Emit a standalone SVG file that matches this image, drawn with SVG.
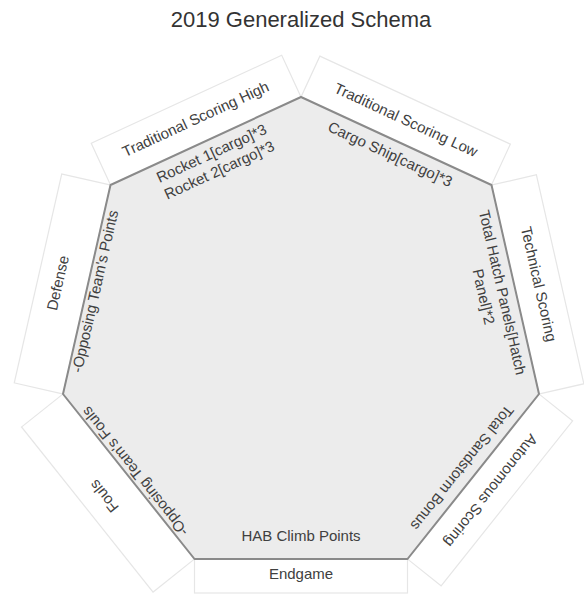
<svg xmlns="http://www.w3.org/2000/svg" width="584" height="596" viewBox="0 0 584 596">
<style>
.box{fill:#ffffff;stroke:#e6e6e6;stroke-width:1.2}
.hept{fill:#ececec;stroke:#8a8a8a;stroke-width:2;stroke-linejoin:round}
.lbl{font-family:"Liberation Sans",Arial,sans-serif;font-size:15px;fill:#404040;text-anchor:middle}
.title{font-family:"Liberation Sans",Arial,sans-serif;font-size:22px;fill:#333333;text-anchor:middle}
</style>
<rect x="0" y="0" width="584" height="596" fill="#ffffff"/>
<text class="title" x="301" y="27">2019 Generalized Schema</text>

<g id="traditional-scoring-high" transform="translate(205.75,141) rotate(-24.79)">
  <rect class="box" x="-104.9" y="-46" width="209.8" height="46"/>
  <text class="lbl" x="0" y="-19">Traditional Scoring High</text>
</g>
<g id="traditional-scoring-low" transform="translate(396.25,141) rotate(24.79)">
  <rect class="box" x="-104.9" y="-45" width="209.8" height="45"/>
  <text class="lbl" x="0" y="-18">Traditional Scoring Low</text>
</g>
<g id="technical-scoring" transform="translate(515.25,289.5) rotate(77.2)">
  <rect class="box" x="-107.15" y="-46" width="214.3" height="46"/>
  <text class="lbl" x="0" y="-19">Technical Scoring</text>
</g>
<g id="autonomous-scoring" transform="translate(473.25,476.5) rotate(128.55)">
  <rect class="box" x="-105.5" y="-43" width="211" height="43"/>
  <text class="lbl" x="0" y="-17.6">Autonomous Scoring</text>
</g>
<g id="endgame">
  <rect class="box" x="194.5" y="559" width="213" height="34"/>
  <text class="lbl" x="301" y="579">Endgame</text>
</g>
<g id="fouls" transform="translate(128.75,476.5) rotate(-128.55)">
  <rect class="box" x="-105.5" y="-53" width="211" height="53"/>
  <text class="lbl" x="0" y="-26.4">Fouls</text>
</g>
<g id="defense" transform="translate(86.75,289.5) rotate(-77.2)">
  <rect class="box" x="-107.15" y="-50" width="214.3" height="50"/>
  <text class="lbl" x="0" y="-24.5">Defense</text>
</g>

<g id="schema">
  <polygon class="hept" points="301,97 491.5,185 539,394 407.5,559 194.5,559 63,394 110.5,185"/>
  <g transform="translate(205.75,141) rotate(-24.79)">
    <text class="lbl" x="0" y="18.7">Rocket 1[cargo]*3</text>
    <text class="lbl" x="0" y="37.2">Rocket 2[cargo]*3</text>
  </g>
  <g transform="translate(396.25,141) rotate(24.79)">
    <text class="lbl" x="0" y="19.7">Cargo Ship[cargo]*3</text>
  </g>
  <g transform="translate(515.25,289.5) rotate(77.2)">
    <text class="lbl" x="0" y="18.2">Total Hatch Panels[Hatch</text>
    <text class="lbl" x="0" y="37.5">Panel]*2</text>
  </g>
  <g transform="translate(473.25,476.5) rotate(128.55)">
    <text class="lbl" x="0" y="19.2">Total Sandstorm Bonus</text>
  </g>
  <text class="lbl" x="301" y="541">HAB Climb Points</text>
  <g transform="translate(128.75,476.5) rotate(-128.55)">
    <text class="lbl" x="0" y="13">-Opposing Team's Fouls</text>
  </g>
  <g transform="translate(86.75,289.5) rotate(-77.2)">
    <text class="lbl" x="0" y="13.5">-Opposing Team's Points</text>
  </g>
</g>
<g id="connectors"/>
</svg>
